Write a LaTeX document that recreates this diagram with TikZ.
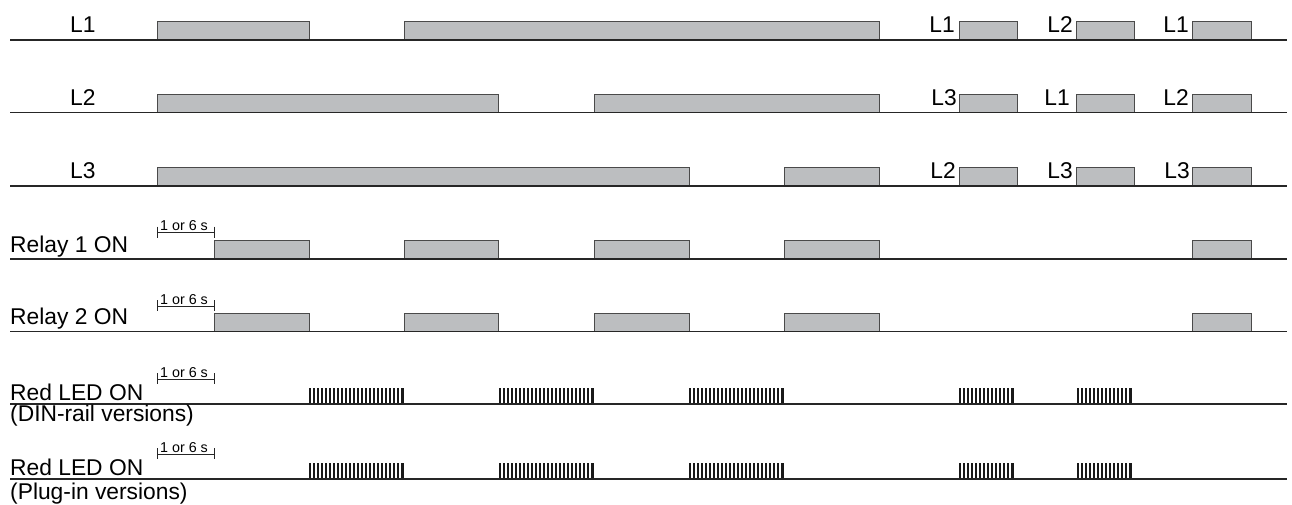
\documentclass[tikz,border=0pt]{standalone}
\usepackage{fontspec}
\setmainfont{Liberation Sans}
\definecolor{boxfill}{HTML}{BCBEC0}
\definecolor{boxline}{HTML}{4A4A4A}
\tikzset{
  pulse/.style={fill=boxfill, draw=boxline, line width=0.9pt},
  axisline/.style={line width=1.6pt, draw=black!85},
  lbl/.style={font=\fontsize{22.8}{26}\selectfont, inner sep=0pt, anchor=base west},
  rlbl/.style={font=\fontsize{22.8}{26}\selectfont, inner sep=0pt, anchor=base east},
  dimtxt/.style={font=\fontsize{14.3}{16}\selectfont, inner sep=0pt, anchor=base west},
  dimline/.style={line width=0.8pt, draw=black!85},
  blip/.style={line width=2pt, draw=black!90}
}
\newcommand\dimmark[1]{%
  \draw[dimline] (157,#1) -- (214,#1);
  \draw[dimline] (157,#1-6) -- (157,#1+5);
  \draw[dimline] (214,#1-6) -- (214,#1+5);
}
\newcommand\burst[4]{% start, end, base, top
  \pgfmathtruncatemacro\burstnext{#1+4}%
  \foreach \x in {#1,\burstnext,...,#2} \draw[blip] (\x,#3) -- (\x,#4);
  \draw[blip] (#2+1.2,#3) -- (#2+1.2,#4);
}
\begin{document}
\begin{tikzpicture}[x=1pt,y=-1pt]
\useasboundingbox (0,0) rectangle (1292,504);

% Row L1
\foreach \a/\b in {157/309, 404/879, 959/1017, 1076/1134, 1192/1251}
  \draw[pulse] (\a,40) rectangle (\b,21);
\draw[axisline] (10,40) -- (1287,40);
\node[lbl] (l1) at (70,32) {L1};
\node[rlbl] (l1a) at (955,32) {L1};
\node[rlbl] (l1b) at (1073,32) {L2};
\node[rlbl] (l1c) at (1189,32) {L1};

% Row L2
\foreach \a/\b in {157/498, 594/879, 959/1017, 1076/1134, 1192/1251}
  \draw[pulse] (\a,112.5) rectangle (\b,94);
\draw[axisline] (10,112.5) -- (1287,112.5);
\node[lbl] (l2) at (70,105) {L2};
\node[rlbl] (l2a) at (957,105) {L3};
\node[rlbl] (l2b) at (1070,105) {L1};
\node[rlbl] (l2c) at (1189,105) {L2};

% Row L3
\foreach \a/\b in {157/689, 784/879, 959/1017, 1076/1134, 1192/1251}
  \draw[pulse] (\a,185.7) rectangle (\b,167);
\draw[axisline] (10,185.7) -- (1287,185.7);
\node[lbl] (l3) at (70,178) {L3};
\node[rlbl] (l3a) at (956,178) {L2};
\node[rlbl] (l3b) at (1073,178) {L3};
\node[rlbl] (l3c) at (1190,178) {L3};

% Relay 1
\foreach \a/\b in {214/309, 404/498, 594/689, 784/879, 1192/1251}
  \draw[pulse] (\a,259) rectangle (\b,240.7);
\draw[axisline] (10,259) -- (1287,259);
\node[lbl] (r1) at (10,252.3) {Relay 1 ON};
\dimmark{232.7}
\node[dimtxt] (d1) at (160,230.5) {1 or 6 s};

% Relay 2
\foreach \a/\b in {214/309, 404/498, 594/689, 784/879, 1192/1251}
  \draw[pulse] (\a,331.5) rectangle (\b,313.2);
\draw[axisline] (10,331.5) -- (1287,331.5);
\node[lbl] (r2) at (10,324.5) {Relay 2 ON};
\dimmark{306}
\node[dimtxt] (d2) at (160,304) {1 or 6 s};

% Red LED DIN
\burst{310}{402}{403}{388}
\burst{500}{592}{403}{388}
\burst{690}{782}{403}{388}
\burst{960}{1012}{403}{388}
\burst{1078}{1130}{403}{388}
\draw[axisline] (10,404) -- (1287,404);
\node[lbl] (led1) at (10,400) {Red LED ON};
\node[lbl] (led1b) at (10,421) {(DIN-rail versions)};
\dimmark{379}
\node[dimtxt] (d3) at (160,377) {1 or 6 s};

% Red LED Plug-in
\burst{310}{402}{478}{463}
\burst{500}{592}{478}{463}
\burst{690}{782}{478}{463}
\burst{960}{1012}{478}{463}
\burst{1078}{1130}{478}{463}
\draw[axisline] (10,479) -- (1287,479);
\node[lbl] (led2) at (10,475) {Red LED ON};
\node[lbl] (led2b) at (10,499) {(Plug-in versions)};
\dimmark{454}
\node[dimtxt] (d4) at (160,452) {1 or 6 s};
\end{tikzpicture}
\end{document}
